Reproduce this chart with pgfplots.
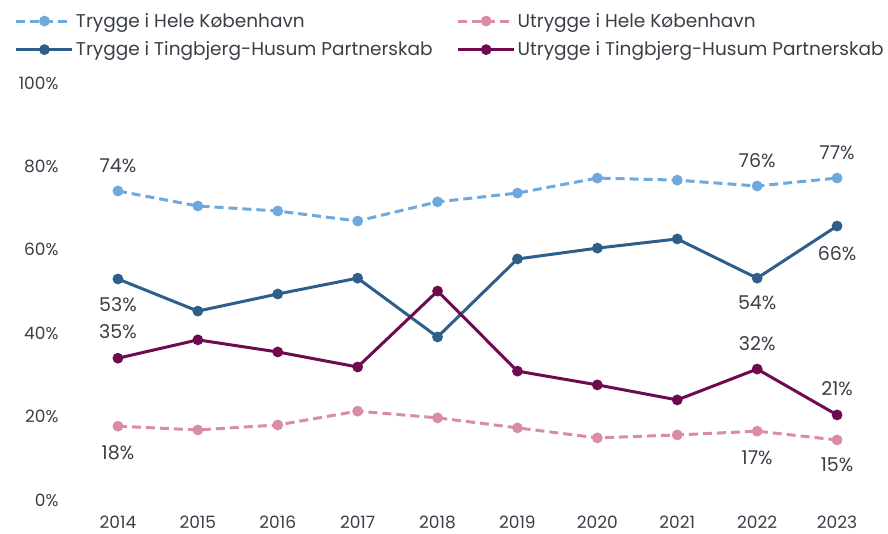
\documentclass[border=0pt]{standalone}
\usepackage{pgfplots}
\pgfplotsset{compat=1.18}
\usepackage{fontspec}
\setmainfont{Poppins}
\definecolor{lblue}{HTML}{6FA8DC}
\definecolor{dblue}{HTML}{2E5E8A}
\definecolor{purp}{HTML}{6E0B50}
\definecolor{pink}{HTML}{D98BAA}
\definecolor{txt}{HTML}{3A3F47}
\begin{document}
\begin{tikzpicture}[x=1pt,y=1pt]
\useasboundingbox (-58,-34) rectangle (830,500);
\begin{axis}[
  scale only axis, width=827pt, height=417pt,
  xmin=2013.25, xmax=2023.6, ymin=0, ymax=100,
  axis line style={draw=none}, major tick length=0pt, clip=false,
  xtick={2014,...,2023}, ytick={0,20,...,100},
  xticklabel style={/pgf/number format/1000 sep={}},
  /pgf/number format/assume math mode=true,
  tick label style={font=\fontsize{17}{20}\selectfont, text=txt},
  yticklabel={\pgfmathprintnumber{\tick}\%},
  yticklabel style={anchor=east, xshift=4pt},
  xticklabel style={yshift=-12pt},
  legend columns=2,
  legend style={at={(rel axis cs:-0.052,1.172)}, anchor=north west, draw=none, fill=none,
    inner sep=0pt, outer sep=0pt,
    font=\fontsize{18.5}{21}\selectfont, text=txt,
    /tikz/every even column/.append style={column sep=22pt},
    row sep=9pt},
  legend cell align=left,
  legend image code/.code={\draw[#1] (0pt,0pt) -- (56pt,0pt); \draw[#1,solid] plot coordinates {(28pt,0pt)};},
]
\addplot[lblue, line width=3pt, dash pattern=on 9pt off 5pt, mark=*, mark size=3.8pt, mark options={solid}] coordinates {
(2014,74.1)(2015,70.5)(2016,69.3)(2017,66.9)(2018,71.5)(2019,73.6)(2020,77.2)(2021,76.7)(2022,75.3)(2023,77.2)};
\addlegendentry{Trygge i Hele København}
\addplot[pink, line width=3pt, dash pattern=on 9pt off 5pt, mark=*, mark size=3.8pt, mark options={solid}] coordinates {
(2014,17.7)(2015,16.8)(2016,18.0)(2017,21.3)(2018,19.7)(2019,17.3)(2020,14.9)(2021,15.6)(2022,16.5)(2023,14.4)};
\addlegendentry{Utrygge i Hele København}
\addplot[dblue, line width=3pt, mark=*, mark size=3.8pt] coordinates {
(2014,53.0)(2015,45.3)(2016,49.4)(2017,53.2)(2018,39.1)(2019,57.8)(2020,60.4)(2021,62.6)(2022,53.2)(2023,65.7)};
\addlegendentry{Trygge i Tingbjerg-Husum Partnerskab}
\addplot[purp, line width=3pt, mark=*, mark size=3.8pt] coordinates {
(2014,34.0)(2015,38.4)(2016,35.5)(2017,31.9)(2018,50.1)(2019,30.9)(2020,27.6)(2021,24.0)(2022,31.4)(2023,20.4)};
\addlegendentry{Utrygge i Tingbjerg-Husum Partnerskab}
\begin{scope}[every node/.style={font=\fontsize{19}{22}\selectfont, text=txt}]
\node at (axis cs:2014,80.1) {74\%};
\node at (axis cs:2022,81.5) {76\%};
\node at (axis cs:2023,83.2) {77\%};
\node at (axis cs:2014,46.8) {53\%};
\node at (axis cs:2022,47.2) {54\%};
\node at (axis cs:2023,59.2) {66\%};
\node at (axis cs:2014,40.3) {35\%};
\node at (axis cs:2022,37.4) {32\%};
\node at (axis cs:2023,26.6) {21\%};
\node at (axis cs:2014,11.3) {18\%};
\node at (axis cs:2022,10.1) {17\%};
\node at (axis cs:2023,8.4) {15\%};
\end{scope}
\end{axis}
\end{tikzpicture}
\end{document}
